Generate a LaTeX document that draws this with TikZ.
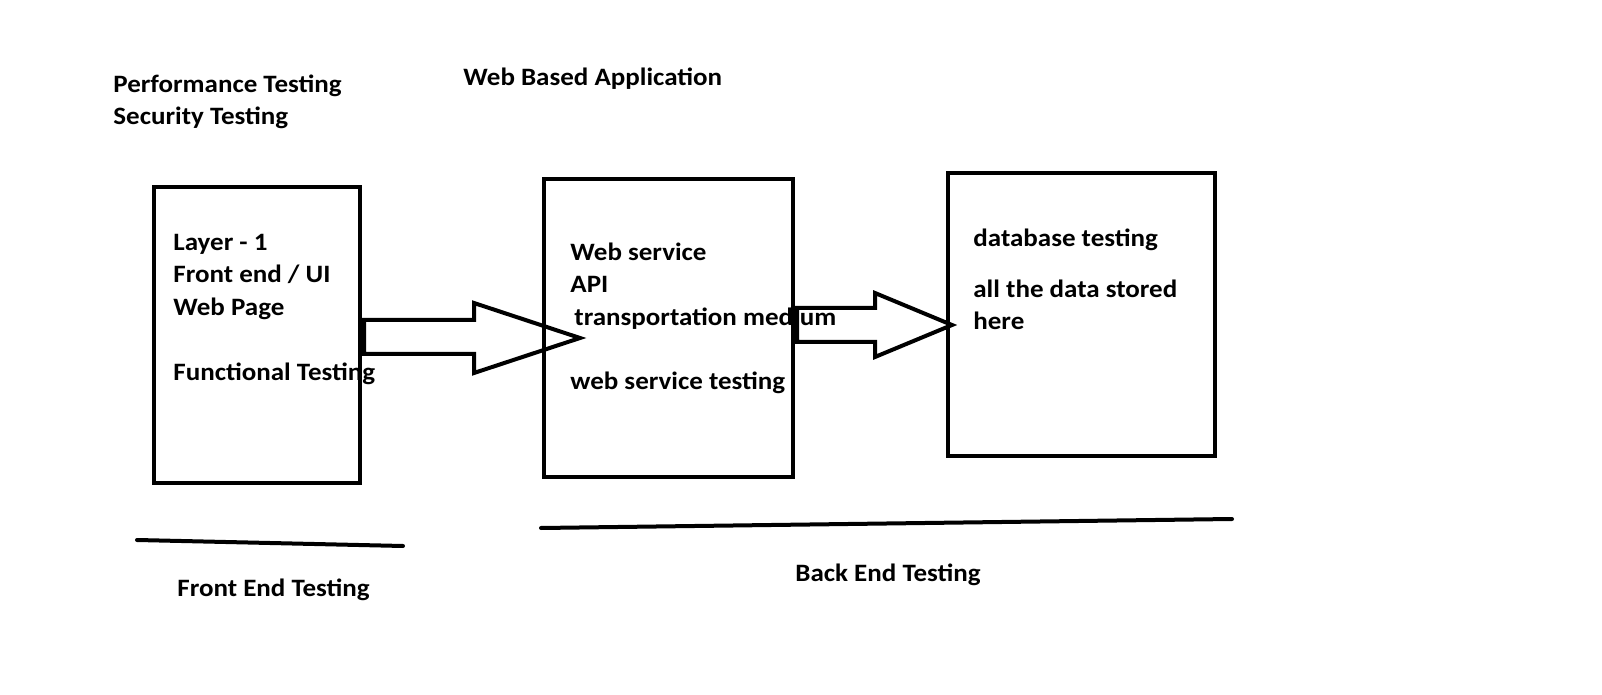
\documentclass[tikz,border=0pt]{standalone}
\usepackage{fontspec}
\setmainfont{Carlito}[FakeStretch=1.08]
\usetikzlibrary{calc}

\begin{document}
\begin{tikzpicture}[x=0.5pt, y=-0.5pt,
    box/.style={draw, line width=2pt, inner sep=0pt},
    txt/.style={anchor=base west, inner sep=0pt, align=left, font=\fontsize{12.5}{16.25}\selectfont\bfseries},
    fat/.style={line width=2pt},
    stroke/.style={line width=2pt, line cap=round}]
    \useasboundingbox[fill=white] (0,0) rectangle (1602,695);

    % the three layers
    \node[box, minimum width=103pt, minimum height=148pt] (layerone) at (257,335) {};
    \node[box, minimum width=124.5pt, minimum height=149pt] (service) at (668.5,328) {};
    \node[box, minimum width=133.5pt, minimum height=141.5pt] (database) at (1081.5,314.5) {};

    % headings (multi-line texts sit on their last line)
    \node[txt] (kinds) at (113,125) {Performance Testing\\Security Testing};
    \node[txt] (webapp) at (463,86) {Web Based Application};

    % box texts
    \node[txt] (uitext) at (173,380) {Layer - 1\\Front end / UI\\Web Page\\[16.25pt]Functional Testing};
    \node[txt] (apitext) at (570,390) {Web service\\API\\\hspace*{2pt}transportation medium\\[16.25pt]web service testing};
    \node[txt] (dbtitle) at (973,247) {database testing};
    \node[txt] (dbtext) at (973,330) {all the data stored\\here};

    % fat arrows between the layers
    \draw[fat] ($(layerone.east)+(2,2)$) ++(0,-17) -- ++(110,0) -- ++(0,-17) -- ++(106,35)
        -- ++(-106,35) -- ++(0,-19) -- ++(-110,0) -- cycle;
    \draw[fat] ($(service.east)+(2,-4)$) ++(0,-16) -- ++(78,0) -- ++(0,-15) -- ++(77,32)
        -- ++(-77,32) -- ++(0,-15) -- ++(-78,0) -- cycle;

    % underlines and their captions
    \draw[stroke] (137,540) -- (403,546);
    \draw[stroke] (541,528) -- (1232,519);
    \node[txt] (fetest) at (177,596) {Front End Testing};
    \node[txt] (betest) at (795,581) {Back End Testing};
\end{tikzpicture}
\end{document}
